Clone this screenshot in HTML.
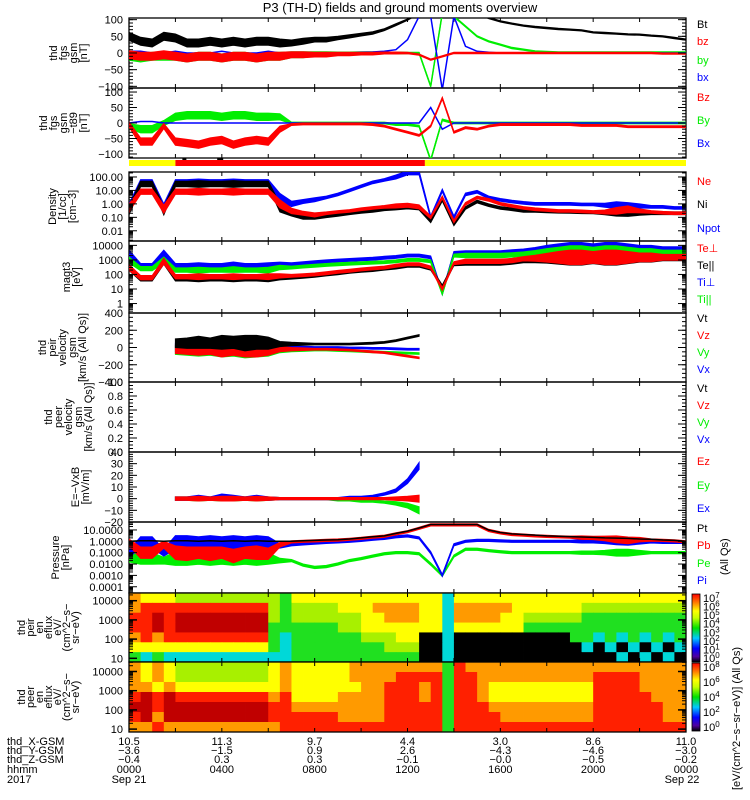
<!DOCTYPE html>
<html><head><meta charset="utf-8">
<style>
html,body{margin:0;padding:0;background:#fff;}
svg{display:block;font-family:"Liberation Sans","DejaVu Sans",sans-serif;}
text{font-size:11px;}
</style></head>
<body>
<svg id="chart" width="750" height="800" viewBox="0 0 750 800" xmlns="http://www.w3.org/2000/svg">
<text x="400" y="12" text-anchor="middle" style="font-size:13px">P3 (TH-D) fields and ground moments overview</text>
</svg>
<script>
// ---------- data (samples every 0.5 h, 0..24 h) ----------
const hours = [0,0.5,1,1.5,2,2.5,3,3.5,4,4.5,5,5.5,6,6.5,7,7.5,8,8.5,9,9.5,10,10.5,11,11.5,12,12.5,13,13.5,14,14.5,15,15.5,16,16.5,17,17.5,18,18.5,19,19.5,20,20.5,21,21.5,22,22.5,23,23.5,24];
const xTickHours = [0,4,8,12,16,20,24];
const posX = ['10.5','11.3','9.7','4.4','3.0','8.6','11.0'];
const posY = ['-3.6','-1.5','0.9','2.6','-4.3','-4.6','-3.0'];
const posZ = ['-0.4','0.3','0.3','-0.1','-0.0','-0.5','-0.2'];
const hhmm = ['0000','0400','0800','1200','1600','2000','0000'];

// Panel 1 fgs gsm [nT]
const p1Bt = [50,35,30,50,45,30,30,35,30,35,30,35,35,30,30,35,40,40,45,50,55,60,70,85,100,120,120,120,120,120,120,105,95,88,82,78,75,72,70,68,62,60,58,56,55,52,50,45,40];
const p1Bz = [-5,-10,-10,-5,-10,-15,-10,-10,-15,-10,-10,-15,-10,-10,-5,-5,-5,-5,-3,-3,-2,-2,0,0,0,-5,-20,-10,0,0,0,0,0,0,0,0,0,0,0,0,0,0,0,0,0,0,-2,-2,-2];
const p1By = [-10,-15,-10,-10,-10,-15,-10,-10,-15,-10,-10,-15,-10,-10,-5,-5,-3,-3,-2,-2,0,0,0,0,0,0,-100,120,110,80,50,35,25,15,10,5,3,2,2,2,2,2,2,2,2,2,2,2,2];
const p1Bx = [5,5,0,0,5,0,0,0,5,0,0,0,5,0,0,0,0,0,0,0,2,3,5,10,40,110,110,-110,110,20,5,2,0,0,0,0,0,0,0,0,0,0,0,0,0,0,0,0,0];
const p1Spread = [12,12,12,12,12,12,12,12,12,12,12,12,12,12,9,9,7,7,5,5,4,4,3,3,2,2,2,2,2,2,2,2,2,2,2,2,2,2,2,2,2,2,2,2,2,2,2,2,2];

// Panel 2 fgs gsm-t89 [nT]
const p2Bz = [-5,-60,-60,-10,-60,-65,-70,-60,-55,-70,-60,-55,-60,-20,-5,-3,-3,-3,-3,-3,-3,-5,-10,-20,-30,-40,-10,80,-30,-15,-20,-10,-5,-5,-5,-5,-5,-5,-5,-8,-8,-8,-8,-12,-12,-12,-12,-12,-12];
const p2By = [-10,-20,-20,0,20,25,25,25,20,25,25,20,20,20,0,0,0,0,0,0,0,0,0,-5,-5,-10,-120,10,0,0,0,0,0,0,0,0,0,0,0,0,0,0,0,0,0,0,0,0,0];
const p2Bx = [0,5,5,0,0,0,0,0,0,0,0,0,0,0,0,0,0,0,0,0,0,0,0,0,0,0,50,-20,0,0,0,0,0,0,0,0,0,0,0,0,0,0,0,0,0,0,0,0,0];
const p2Spread = [8,12,12,8,12,12,12,12,12,12,12,12,12,10,3,3,3,3,3,3,3,3,3,3,3,3,3,3,3,3,3,3,3,3,3,3,3,3,3,3,3,3,3,3,3,3,3,3,3];

// Panel 3 Density [1/cc]
const p3Ne = [0.5,8,8,0.4,8,8,8,8,8,8,8,8,8,1,0.3,0.2,0.15,0.2,0.25,0.3,0.4,0.5,0.6,0.7,0.8,0.6,0.1,3,0.05,1,3,2,1,0.7,0.5,0.4,0.35,0.3,0.3,0.28,0.25,0.25,0.3,0.4,0.3,0.25,0.22,0.2,0.2];
const p3Ni = [0.3,30,30,0.3,30,30,30,30,30,30,30,30,30,0.5,0.2,0.1,0.1,0.12,0.15,0.2,0.25,0.3,0.4,0.5,0.6,0.5,0.05,2,0.03,0.5,1.5,0.8,0.5,0.4,0.3,0.3,0.28,0.26,0.25,0.24,0.23,0.22,0.22,0.21,0.2,0.2,0.2,0.2,0.2];
const p3Npot = [0.5,40,40,0.5,40,40,40,40,40,40,40,40,40,3,1,1.5,2,3,5,10,20,40,60,100,200,200,0.1,10,0.1,5,8,3,2,1.5,1.2,1,1,1,1,0.9,0.9,0.8,0.8,0.7,0.7,0.6,0.6,0.5,0.5];
const p3Spread = [0.3,0.2,0.2,0.3,0.2,0.2,0.25,0.2,0.2,0.25,0.2,0.2,0.2,0.3,0.2,0.15,0.15,0.1,0.1,0.1,0.1,0.1,0.1,0.15,0.15,0.15,0.1,0.1,0.1,0.1,0.1,0.1,0.1,0.1,0.1,0.1,0.1,0.1,0.1,0.1,0.1,0.15,0.25,0.25,0.15,0.1,0.1,0.1,0.1];

// Panel 4 magt3 temperature [eV]
const p4TePerp = [300,60,60,800,70,70,70,70,70,70,70,70,70,80,80,90,100,120,150,180,220,260,300,400,500,500,300,10,600,800,800,800,800,900,1200,1300,1400,1500,1500,1500,1500,1500,1500,1500,1500,1500,1500,1500,1500];
const p4TePar = [300,50,50,800,50,50,50,50,50,50,50,50,50,60,60,70,80,100,120,150,180,200,250,300,400,400,250,15,500,600,600,600,600,700,900,1000,1200,1300,1400,1400,1400,1400,1400,1400,1400,1400,1400,1400,1400];
const p4TiPerp = [3000,400,400,3000,400,400,400,400,400,450,400,400,400,500,500,600,700,800,900,1000,1100,1200,1400,1600,2000,2000,1500,5,3000,3000,3000,3000,3000,3500,4000,4500,5000,5000,5000,5000,5000,5000,5000,5000,5000,5000,5000,5000,5000];
const p4TiPar = [1000,250,250,1000,200,200,200,200,200,220,200,200,200,300,300,350,400,450,500,550,600,650,700,800,1000,1000,800,5,2000,2000,2000,2000,2000,2200,2500,2800,3000,3000,3000,3000,3000,3000,3000,3000,3000,3000,3000,3000,3000];
const p4Spread = [0.2,0.15,0.15,0.2,0.15,0.15,0.2,0.15,0.15,0.2,0.15,0.15,0.2,0.15,0.1,0.1,0.1,0.1,0.1,0.1,0.1,0.1,0.1,0.1,0.1,0.1,0.1,0.1,0.1,0.15,0.15,0.15,0.15,0.15,0.15,0.2,0.3,0.4,0.5,0.5,0.4,0.5,0.5,0.4,0.3,0.3,0.2,0.2,0.2];

// Panel 5 peir velocity [km/s]
const p5Vt = [null,null,null,null,50,50,60,50,60,60,50,60,50,40,40,40,40,40,40,40,45,50,60,80,110,140,null,null,null,null,null,null,null,null,null,null,null,null,null,null,null,null,null,null,null,null,null,null,null];
const p5Vz = [null,null,null,null,-20,-20,-20,-20,-30,-20,-20,-30,-20,-20,-20,-20,-20,-20,-25,-30,-40,-50,-60,-80,-100,-120,null,null,null,null,null,null,null,null,null,null,null,null,null,null,null,null,null,null,null,null,null,null,null];
const p5Vy = [null,null,null,null,-30,-30,-30,-30,-30,-30,-30,-30,-30,-30,-30,-30,-30,-30,-35,-40,-45,-50,-55,-60,-65,-70,null,null,null,null,null,null,null,null,null,null,null,null,null,null,null,null,null,null,null,null,null,null,null];
const p5Vx = [null,null,null,null,0,0,0,0,0,0,0,0,0,0,0,0,0,0,0,-5,-5,-10,-10,-15,-20,-20,null,null,null,null,null,null,null,null,null,null,null,null,null,null,null,null,null,null,null,null,null,null,null];
const p5Spread = [0,0,0,0,50,60,70,60,80,70,90,80,70,30,20,15,10,10,10,10,10,10,10,10,10,10,0,0,0,0,0,0,0,0,0,0,0,0,0,0,0,0,0,0,0,0,0,0,0];

// Panel 7 E = -VxB [mV/m]
const p7Ez = [null,null,null,null,0,0,0,0,0,0,0,0,0,0,0,0,0,0,0,0,0,0,0,0,0,0,null,null,null,null,null,null,null,null,null,null,null,null,null,null,null,null,null,null,null,null,null,null,null];
const p7Ey = [null,null,null,null,0,0,0,0,0,0,0,0,0,0,0,0,0,0,-1,-1,-2,-2,-3,-4,-6,-10,null,null,null,null,null,null,null,null,null,null,null,null,null,null,null,null,null,null,null,null,null,null,null];
const p7Ex = [null,null,null,null,0,0,1,0,2,1,0,1,0,0,0,0,0,0,0,1,1,2,4,7,15,28,null,null,null,null,null,null,null,null,null,null,null,null,null,null,null,null,null,null,null,null,null,null,null];
const p7Spread = [0,0,0,0,1.5,1.5,2,1.5,2,2,1.5,2,1.5,1,1,1,1,1,1,1,1,1,1,1.5,2,3,0,0,0,0,0,0,0,0,0,0,0,0,0,0,0,0,0,0,0,0,0,0,0];

// Panel 8 Pressure [nPa]
const p8Pt = [1,1.1,1.1,1,1.1,1.1,1,1.1,1,1.1,1,1.1,1,1,1,1.1,1.2,1.3,1.4,1.6,2,2.5,3,5,8,15,30,30,30,30,30,10,6,4.5,4,3.5,3,2.8,2.6,2.4,2.2,2,1.9,1.8,1.6,1.5,1.3,1.2,1];
const p8Pb = [0.8,0.1,0.1,0.5,0.1,0.08,0.1,0.08,0.1,0.05,0.1,0.1,0.08,0.5,0.9,1,1.1,1.2,1.3,1.5,1.8,2.3,2.8,4.5,7,14,28,28,28,28,28,9,5.5,4,3.5,3,2.7,2.5,2.3,2.1,2,1.8,1.5,1.2,1.4,1.3,1.2,1.1,0.9];
const p8Pe = [0.03,0.03,0.03,0.02,0.03,0.03,0.03,0.03,0.03,0.03,0.03,0.03,0.03,0.02,0.02,0.008,0.005,0.006,0.01,0.02,0.03,0.05,0.08,0.1,0.1,0.08,0.01,0.001,0.05,0.2,0.2,0.15,0.12,0.1,0.1,0.1,0.1,0.1,0.1,0.1,0.1,0.1,0.1,0.1,0.1,0.1,0.1,0.1,0.1];
const p8Pi = [0.08,0.8,0.8,0.1,0.8,0.8,0.8,0.8,0.8,0.8,0.8,0.8,0.8,0.4,0.5,0.6,0.7,0.8,0.9,1,1.2,1.5,1.8,2.5,3,2,0.1,0.001,0.5,1,1.2,1.2,1.1,1,1,1,1,1,1,1,1,1,1,0.9,0.9,0.9,0.8,0.8,0.8];
const p8Spread = [0.3,0.5,0.5,0.3,0.6,0.6,0.5,0.6,0.5,0.6,0.5,0.6,0.5,0.2,0.1,0.1,0.1,0.1,0.1,0.1,0.1,0.1,0.1,0.1,0.1,0.1,0.1,0.1,0.1,0.1,0.1,0.1,0.1,0.1,0.1,0.1,0.1,0.1,0.1,0.15,0.15,0.2,0.3,0.3,0.2,0.1,0.1,0.1,0.1];

// Spectrograms: color index per 0.5 h column, rows top(high E) -> bottom(low E)
const ionRows = [
 "6555444444444355555555555552555555555555555555555",
 "6777777777774344445556666552666665555554444444444",
 "7787888888884344444455666552666655444443333333333",
 "7787888888883333334455555552555555333333333333333",
 "6767777777773233333344455002000000000033232323233",
 "5555555555553233333333444002000000000002020202022",
 "3232222222222233333333333002000000000000002020202"
];
const eleRows = [
 "6565444444445655555666666663766666666666666666666",
 "6565444444445655555666677773776666666666777766666",
 "6656555555555655555566777673776555555555777766666",
 "7878777777776755556666777673776555555555777776666",
 "8878888888887766666666777773777666666666777777666",
 "7868888888887777776666777773777766666666777777666",
 "6676666666666777777777777773777777777777777777777"
];
const ionTicks = [10000,1000,100,10];
const eleTicks = [10000,1000,100,10];
</script>
<script>
const svg = document.getElementById('chart');
const NS = 'http://www.w3.org/2000/svg';
const X0 = 129, X1 = 686;
function xS(h){ return X0 + (h/24)*(X1-X0); }
function mk(tag, attrs, parent){
  const e = document.createElementNS(NS, tag);
  for (const k in attrs) e.setAttribute(k, attrs[k]);
  (parent||svg).appendChild(e);
  return e;
}
function txt(str, x, y, opts, parent){
  const t = mk('text', Object.assign({x:x, y:y}, opts||{}), parent);
  t.textContent = str;
  return t;
}
const defs = mk('defs', {});

function makeScale(p){
  return function(v){
    let u = p.log ? Math.log10(v) : v;
    return p.bottom - (u - p.min)/(p.max - p.min)*(p.bottom - p.top);
  };
}

function drawFrame(p, name){
  const g = mk('g', {});
  
  
  mk('rect', {x:X0, y:p.top, width:X1-X0, height:p.bottom-p.top, fill:'none', stroke:'#000', 'stroke-width':1.3}, g);
  for (let h=2; h<24; h+=2){
    const x = xS(h);
    mk('line', {x1:x, x2:x, y1:p.top, y2:p.top+4, stroke:'#000'}, g);
    mk('line', {x1:x, x2:x, y1:p.bottom, y2:p.bottom-4, stroke:'#000'}, g);
  }
  return g;
}

function yTicks(p, g, labels){
  const ys = makeScale(p);
  labels.forEach(l => {
    const y = ys(l.v);
    mk('line', {x1:X0, x2:X0+8, y1:y, y2:y, stroke:'#000'}, g);
    mk('line', {x1:X1, x2:X1-8, y1:y, y2:y, stroke:'#000'}, g);
    const t = txt(l.t, 123, y+4, {'text-anchor':'end'}, g);
    
    
  });
  if (p.log){
    for (let d=Math.floor(p.min); d<Math.ceil(p.max); d++){
      for (let m=2; m<10; m++){
        const u = d + Math.log10(m);
        if (u<p.min||u>p.max) continue;
        const y = p.bottom - (u-p.min)/(p.max-p.min)*(p.bottom-p.top);
        mk('line', {x1:X0, x2:X0+4, y1:y, y2:y, stroke:'#000'}, g);
        mk('line', {x1:X1, x2:X1-4, y1:y, y2:y, stroke:'#000'}, g);
      }
    }
  } else if (p.minor){
    for (let v=Math.ceil(p.min/p.minor)*p.minor; v<=p.max; v+=p.minor){
      const y = ys(v);
      mk('line', {x1:X0, x2:X0+4, y1:y, y2:y, stroke:'#000'}, g);
      mk('line', {x1:X1, x2:X1-4, y1:y, y2:y, stroke:'#000'}, g);
    }
  }
}

function leftLabel(lines, p, g, cx, sp){
  const cy = (p.top+p.bottom)/2;
  const n = lines.length;
  const step = sp || 10;
  lines.forEach((s,i)=>{
    const x = cx - (n-1)*step/2 + i*step + 4;
    const t = txt(s, x, cy, {'text-anchor':'middle', transform:'rotate(-90 '+x+' '+cy+')', 'font-size':'11'}, g);
    
    
  });
}

function rightLegend(items, g){
  items.forEach(it=>{
    const t = txt(it[0], 697, it[2], {fill:it[1]}, g);
    
    
  });
}

let clipId = 0;
function drawSeries(p, g, vals, spread, color, name){
  const ys = makeScale(p);
  const cid = 'clip' + (clipId++);
  const cp = mk('clipPath', {id:cid}, defs);
  mk('rect', {x:X0, y:p.top, width:X1-X0, height:p.bottom-p.top}, cp);
  const sg = mk('g', {'clip-path':'url(#'+cid+')'}, g);
  
  
  let seg = [];
  const segs = [];
  hours.forEach((h,i)=>{
    if (vals[i]===null){ if (seg.length) segs.push(seg); seg=[]; }
    else seg.push(i);
  });
  if (seg.length) segs.push(seg);
  segs.forEach(s=>{
    if (spread){
      const up = [], dn = [];
      s.forEach(i=>{
        const v = vals[i], sp = spread[i];
        let a, b;
        if (p.log){ a = v*Math.pow(10, sp); b = v/Math.pow(10, sp); }
        else { a = v+sp; b = v-sp; }
        up.push(xS(hours[i]).toFixed(1)+','+ys(a).toFixed(1));
        dn.unshift(xS(hours[i]).toFixed(1)+','+ys(b).toFixed(1));
      });
      const band = mk('polygon', {points: up.concat(dn).join(' '), fill:color, stroke:color, 'stroke-width':1}, sg);
      
      
    }
    const pts = s.map(i => xS(hours[i]).toFixed(1)+','+ys(vals[i]).toFixed(1)).join(' ');
    const line = mk('polyline', {points:pts, fill:'none', stroke:color, 'stroke-width':1.5}, sg);
    
    
  });
}

const BLK='#000', RED='#ff0000', GRN='#00ee00', BLU='#0000ff';

// ---- Panel 1 ----
const P1 = {top:18, bottom:88, log:false, min:-105, max:105, minor:10};
let g = drawFrame(P1, 'fgs-gsm');
drawSeries(P1, g, p1By, p1Spread, GRN, 'series-by');
drawSeries(P1, g, p1Bx, null, BLU, 'series-bx');
drawSeries(P1, g, p1Bz, p1Spread, RED, 'series-bz');
drawSeries(P1, g, p1Bt, p1Spread, BLK, 'series-bt');
yTicks(P1, g, [{v:100,t:'100'},{v:50,t:'50'},{v:0,t:'0'},{v:-50,t:'−50'},{v:-100,t:'−100'}]);
leftLabel(['thd','fgs','gsm','[nT]'], P1, g, 68);
rightLegend([['Bt',BLK,28],['bz',RED,45],['by',GRN,64],['bx',BLU,81]], g);

// ---- Panel 2 ----
const P2 = {top:88, bottom:158, log:false, min:-113, max:113, minor:10};
g = drawFrame(P2, 'fgs-gsm-t89');
drawSeries(P2, g, p2By, p2Spread, GRN, 'series-By');
drawSeries(P2, g, p2Bx, null, BLU, 'series-Bx');
drawSeries(P2, g, p2Bz, p2Spread, RED, 'series-Bz');
yTicks(P2, g, [{v:100,t:'100'},{v:50,t:'50'},{v:0,t:'0'},{v:-50,t:'−50'},{v:-100,t:'−100'}]);
leftLabel(['thd','fgs','gsm','−t89','[nT]'], P2, g, 63);
rightLegend([['Bz',RED,101],['By',GRN,124],['Bx',BLU,147]], g);

// ---- region bar ----
const barG = mk('g', {});


const barSegs = [[0,2,'#ffff00'],[2,12.75,'#ff0000'],[12.75,24,'#ffff00']];
barSegs.forEach(s=>{
  mk('rect', {x:xS(s[0]), y:160, width:xS(s[1])-xS(s[0]), height:6, fill:s[2]}, barG);
});
mk('rect', {x:xS(2.3), y:158, width:4, height:2, fill:'#000'}, barG);
mk('rect', {x:xS(3.8), y:158, width:6, height:2, fill:'#000'}, barG);

// ---- Panel 3 Density ----
const P3 = {top:172, bottom:241, log:true, min:-2.76, max:2.37};
g = drawFrame(P3, 'density');
drawSeries(P3, g, p3Npot, p3Spread, BLU, 'series-npot');
drawSeries(P3, g, p3Ni, p3Spread, BLK, 'series-ni');
drawSeries(P3, g, p3Ne, p3Spread, RED, 'series-ne');
yTicks(P3, g, [{v:100,t:'100.00'},{v:10,t:'10.00'},{v:1,t:'1.00'},{v:0.1,t:'0.10'},{v:0.01,t:'0.01'}]);
leftLabel(['Density','[1/cc]','[cm−3]'], P3, g, 62);
rightLegend([['Ne',RED,185],['Ni',BLK,208],['Npot',BLU,232]], g);

// ---- Panel 4 Temperature ----
const P4 = {top:241, bottom:313, log:true, min:-0.65, max:4.3};
g = drawFrame(P4, 'temperature');
drawSeries(P4, g, p4TiPerp, p4Spread, BLU, 'series-ti-perp');
drawSeries(P4, g, p4TiPar, p4Spread, GRN, 'series-ti-par');
drawSeries(P4, g, p4TePar, p4Spread, BLK, 'series-te-par');
drawSeries(P4, g, p4TePerp, p4Spread, RED, 'series-te-perp');
yTicks(P4, g, [{v:10000,t:'10000'},{v:1000,t:'1000'},{v:100,t:'100'},{v:10,t:'10'},{v:1,t:'1'}]);
leftLabel(['magt3','[eV]'], P4, g, 71);
rightLegend([['Te⊥',RED,252],['Te||',BLK,269],['Ti⊥',BLU,286],['Ti||',GRN,303]], g);

// ---- Panel 5 peir velocity ----
const P5 = {top:313, bottom:382, log:false, min:-400, max:400, minor:50};
g = drawFrame(P5, 'peir-velocity');
drawSeries(P5, g, p5Vx, p5Spread, BLU, 'series-vx');
drawSeries(P5, g, p5Vy, p5Spread, GRN, 'series-vy');
drawSeries(P5, g, p5Vz, p5Spread, RED, 'series-vz');
drawSeries(P5, g, p5Vt, p5Spread, BLK, 'series-vt');
yTicks(P5, g, [{v:400,t:'400'},{v:200,t:'200'},{v:0,t:'0'},{v:-200,t:'−200'},{v:-400,t:'−400'}]);
leftLabel(['thd','peir','velocity','gsm','[km/s (All Qs)]'], P5, g, 62);
rightLegend([['Vt',BLK,322],['Vz',RED,339],['Vy',GRN,356],['Vx',BLU,373]], g);

// ---- Panel 6 peer velocity (empty) ----
const P6 = {top:382, bottom:452, log:false, min:0, max:1, minor:0.05};
g = drawFrame(P6, 'peer-velocity');
yTicks(P6, g, [{v:1,t:'1.0'},{v:0.8,t:'0.8'},{v:0.6,t:'0.6'},{v:0.4,t:'0.4'},{v:0.2,t:'0.2'},{v:0,t:'0.0'}]);
leftLabel(['thd','peer','velocity','gsm','[km/s (All Qs)]'], P6, g, 68);
rightLegend([['Vt',BLK,392],['Vz',RED,409],['Vy',GRN,426],['Vx',BLU,443]], g);

// ---- Panel 7 E field ----
const P7 = {top:452, bottom:522, log:false, min:-20, max:40, minor:2};
g = drawFrame(P7, 'e-field');
drawSeries(P7, g, p7Ey, p7Spread, GRN, 'series-ey');
drawSeries(P7, g, p7Ex, p7Spread, BLU, 'series-ex');
drawSeries(P7, g, p7Ez, p7Spread, RED, 'series-ez');
yTicks(P7, g, [{v:40,t:'40'},{v:30,t:'30'},{v:20,t:'20'},{v:10,t:'10'},{v:0,t:'0'},{v:-10,t:'−10'},{v:-20,t:'−20'}]);
leftLabel(['E=−VxB','[mV/m]'], P7, g, 80);
rightLegend([['Ez',RED,465],['Ey',GRN,489],['Ex',BLU,512]], g);

// ---- Panel 8 Pressure ----
const P8 = {top:522, bottom:593, log:true, min:-4.55, max:1.7};
g = drawFrame(P8, 'pressure');
drawSeries(P8, g, p8Pe, p8Spread, GRN, 'series-pe');
drawSeries(P8, g, p8Pi, p8Spread, BLU, 'series-pi');
drawSeries(P8, g, p8Pb, p8Spread, RED, 'series-pb');
drawSeries(P8, g, p8Pt, null, BLK, 'series-pt');
yTicks(P8, g, [{v:10,t:'10.0000'},{v:1,t:'1.0000'},{v:0.1,t:'0.1000'},{v:0.01,t:'0.0100'},{v:0.001,t:'0.0010'},{v:0.0001,t:'0.0001'}]);
leftLabel(['Pressure','[nPa]'], P8, g, 60);
rightLegend([['Pt',BLK,532],['Pb',RED,549],['Pe',GRN,567],['Pi',BLU,584]], g);
{
  const t = txt('(All Qs)', 728, 575, {transform:'rotate(-90 728 575)'}, g);
  
  
}

// ---- Spectrograms ----
const PAL = ['#000000','#1030ff','#00d8d8','#20e020','#a8f000','#ffff00','#ff9a00','#ff2000','#c00000'];
function drawSpec(rows, top, bottom, ticks, tickY0, decPx, name, labels){
  const sg = mk('g', {});
  
  
  const nr = rows.length;
  const rh = (bottom-top)/nr;
  rows.forEach((row, r)=>{
    for (let c=0; c<48; c++){
      const x = xS(c*0.5), w = xS((c+1)*0.5)-x;
      const cell = mk('rect', {x:x.toFixed(2), y:(top+r*rh).toFixed(2), width:(w+0.4).toFixed(2), height:(rh+0.4).toFixed(2), fill:PAL[+row[c]]}, sg);
      
      
    }
  });
  mk('rect', {x:X0, y:top, width:X1-X0, height:bottom-top, fill:'none', stroke:'#000', 'stroke-width':1.3}, sg);
  for (let h=2; h<24; h+=2){
    const x = xS(h);
    mk('line', {x1:x, x2:x, y1:top, y2:top+4, stroke:'#000'}, sg);
    mk('line', {x1:x, x2:x, y1:bottom, y2:bottom-4, stroke:'#000'}, sg);
  }
  ticks.forEach((tv,i)=>{
    const y = tickY0 + i*decPx;
    mk('line', {x1:X0, x2:X0+8, y1:y, y2:y, stroke:'#000', 'stroke-width':1.5}, sg);
    mk('line', {x1:X1, x2:X1-8, y1:y, y2:y, stroke:'#000', 'stroke-width':1.5}, sg);
    for (let m=2; m<10; m++){
      const yy = y - Math.log10(m)*decPx;
      if (yy < top) continue;
      mk('line', {x1:X0, x2:X0+4, y1:yy, y2:yy, stroke:'#000'}, sg);
      mk('line', {x1:X1, x2:X1-4, y1:yy, y2:yy, stroke:'#000'}, sg);
    }
    const t = txt(String(tv), 123, y+4, {'text-anchor':'end'}, sg);
    
    
  });
  leftLabel(labels, {top:top, bottom:bottom}, sg, 48, 9);
  return sg;
}
drawSpec(ionRows, 593, 662, ionTicks, 600.7, 19.2, 'ion-spectrogram', ['thd','peir','en','eflux','eV/','(cm^2−s−','sr−eV)']);
drawSpec(eleRows, 662, 732, eleTicks, 671.5, 19.2, 'electron-spectrogram', ['thd','peer','en','eflux','eV/','(cm^2−s−','sr−eV)']);

// ---- colorbars ----
const grad = mk('linearGradient', {id:'rainbow', x1:0, y1:1, x2:0, y2:0}, defs);
[['0','#000000'],['0.08','#5000a0'],['0.2','#0000ff'],['0.35','#00c8ff'],['0.5','#00e000'],['0.65','#c8ff00'],['0.75','#ffff00'],['0.87','#ff8000'],['1','#ff0000']]
  .forEach(s=> mk('stop', {offset:s[0], 'stop-color':s[1]}, grad));
function colorbar(top, bottom, exps, name){
  const cg = mk('g', {});
  
  
  mk('rect', {x:692, y:top, width:8, height:bottom-top, fill:'url(#rainbow)', stroke:'#000', 'stroke-width':0.8}, cg);
  exps.forEach((e,i)=>{
    const y = bottom - 4 - i*(bottom-top-8)/(exps.length-1);
    const t = mk('text', {x:703, y:y+4}, cg);
    
    
    t.textContent = '10';
    const s = mk('tspan', {dy:-4, 'font-size':'8'}, t);
    s.textContent = String(e);
  });
}
colorbar(594, 662, [0,1,2,3,4,5,6,7], 'ion-colorbar');
colorbar(663, 731, [0,2,4,6,8], 'electron-colorbar');
{
  const t = txt('[eV/(cm^2−s−sr−eV)] (All Qs)', 740, 790, {transform:'rotate(-90 740 790)', 'font-size':'12'});
  
  
}

// ---- bottom axis labels ----
const rowsLbl = [['thd_X-GSM', posX, 745],['thd_Y-GSM', posY, 754],['thd_Z-GSM', posZ, 763],['hhmm', hhmm, 773]];
const ag = mk('g', {});


rowsLbl.forEach(r=>{
  const t = txt(r[0], 7, r[2], {}, ag);
  
  
  r[1].forEach((v,i)=>{
    const tt = txt(v.replace('-','−'), xS(xTickHours[i]), r[2], {'text-anchor':'middle'}, ag);
    
    
  });
});
{
  let t = txt('2017', 7, 783, {}, ag);
  
  
  t = txt('Sep 21', xS(0), 783, {'text-anchor':'middle'}, ag);
  
  
  t = txt('Sep 22', xS(24)-4, 783, {'text-anchor':'middle'}, ag);
  
  
}
</script>
</body></html>
